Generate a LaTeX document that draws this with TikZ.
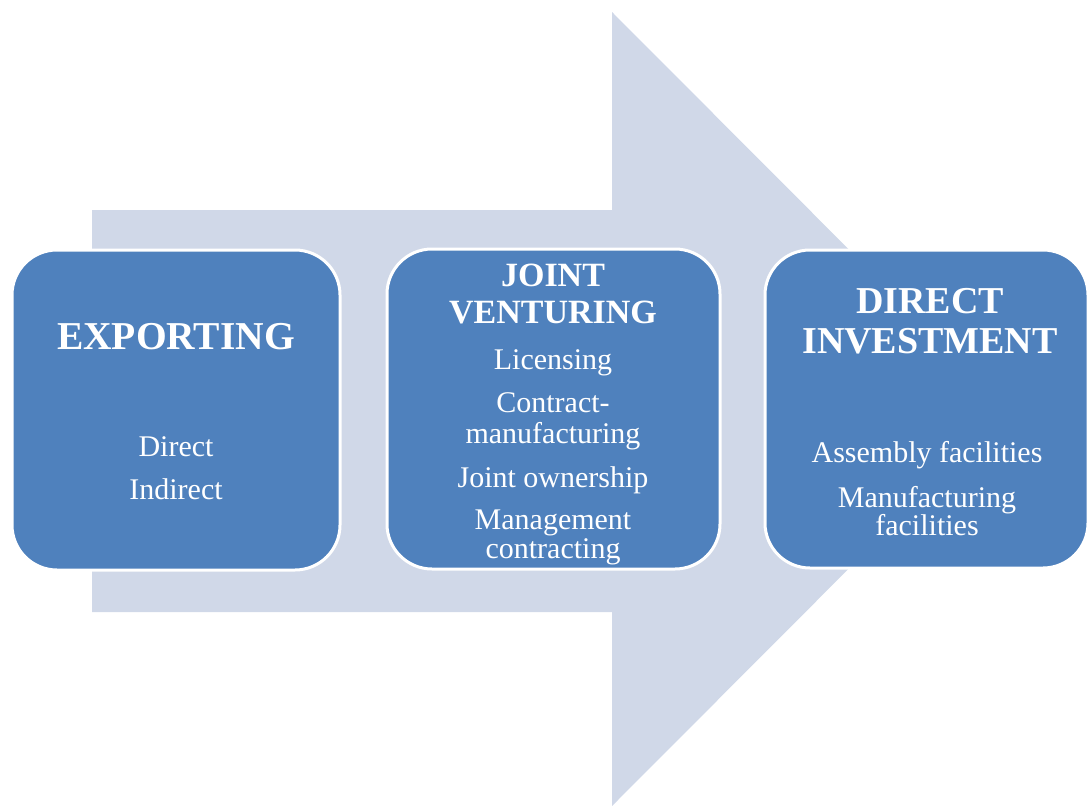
\documentclass[tikz,border=0pt]{standalone}
\usepackage{fontspec}
\setmainfont{Liberation Serif}
\usetikzlibrary{positioning}
\definecolor{boxblue}{RGB}{79,129,189}
\definecolor{arrowgrey}{RGB}{208,216,232}
\begin{document}
\begin{tikzpicture}[x=1pt, y=-1pt,
    stage/.style={rectangle, rounded corners=45pt, fill=boxblue, draw=white, line width=3pt, inner sep=0pt},
    title/.style={anchor=base, text=white, inner sep=0pt, font=\bfseries\fontsize{#1}{#1}\selectfont},
    title/.default=38,
    item/.style={anchor=base, text=white, inner sep=0pt, font=\fontsize{30}{31}\selectfont}]
      \useasboundingbox (0,0) rectangle (1090,806);

      % big arrow behind the stages
      \fill[arrowgrey] (92,210) -- (612,210) -- (612,12) -- (1008,409) -- (612,806) -- (612,612) -- (92,612) -- cycle;

      \node[stage, minimum width=328pt, minimum height=320pt] (exp) at (176,410) {};
      \node[stage, minimum width=333pt, minimum height=320pt] (jv) at (553.5,409) {};
      \node[stage, minimum width=323pt, minimum height=318pt] (di) at (926.5,409) {};

      \node[title=39.5] (exp_t) at (176,349) {EXPORTING};
      \node[item] (exp_1) at (176,456) {Direct};
      \node[item] (exp_2) at (176,499) {Indirect};

      \node[title=34] (jv_t1) at (553,286) {JOINT};
      \node[title=34] (jv_t2) at (553,323) {VENTURING};
      \node[item] (jv_1) at (553,369) {Licensing};
      \node[item] (jv_2a) at (553,412) {Contract-};
      \node[item] (jv_2b) at (553,443) {manufacturing};
      \node[item] (jv_3) at (553,487) {Joint ownership};
      \node[item] (jv_4a) at (553,529) {Management};
      \node[item] (jv_4b) at (553,558) {contracting};

      \node[title] (di_t1) at (930,313) {DIRECT};
      \node[title] (di_t2) at (930,353) {INVESTMENT};
      \node[item] (di_1) at (927,462) {Assembly facilities};
      \node[item] (di_2a) at (927,507) {Manufacturing};
      \node[item] (di_2b) at (927,535) {facilities};
    \end{tikzpicture}
\end{document}
